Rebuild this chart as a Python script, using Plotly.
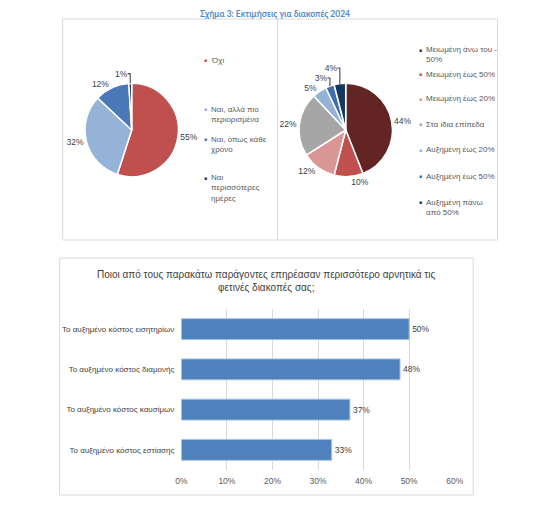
import plotly.graph_objects as go

W, H = 552, 510
PAGE_OFFSET = 8  # отступ body в странице: график сдвинут на 8px
FONT = "Liberation Sans, Arial, sans-serif"
TXT = "#404040"

# --- данные ---
trip_labels = ["Όχι", "Ναι, αλλά πιο<br>περιορισμένα", "Ναι, όπως κάθε<br>χρόνο",
               "Ναι<br>περισσότερες<br>ημέρες"]
trip_values = [55, 32, 12, 1]
trip_colors = ["#C0504D", "#95B3D7", "#4A78B8", "#1F3864"]

budget_labels = ["Μειωμένη άνω του -<br>50%", "Μειωμένη έως 50%", "Μειωμένη έως 20%",
                 "Στα ίδια επίπεδα", "Αυξημένη έως 20%", "Αυξημένη έως 50%",
                 "Αυξημένη πάνω<br>από 50%"]
budget_values = [44, 10, 12, 22, 5, 3, 4]
budget_colors = ["#632523", "#C0504D", "#D99694", "#A6A6A6", "#95B3D7", "#3F6FAE", "#17375E"]

factor_labels = ["Το αυξημένο κόστος εισητηρίων", "Το αυξημένο κόστος διαμονής",
                 "Το αυξημένο κόστος καυσίμων", "Το αυξημένο κόστος εστίασης"]
factor_values = [0.50, 0.48, 0.37, 0.33]
x_ticks = [0, 0.1, 0.2, 0.3, 0.4, 0.5, 0.6]

# позиции легенд (пиксели экрана, центр первой строки)
LEFT_LEGEND = dict(x=205, ys=[60, 109, 139, 178])
RIGHT_LEGEND = dict(x=426, ys=[50, 74, 99, 124, 150, 176, 202])


def px_x(x):
    return (x - PAGE_OFFSET) / W


def px_y(y):
    return 1 - (y - PAGE_OFFSET) / H


def pie_domain(cx, cy, r):
    return dict(x=[px_x(cx - r), px_x(cx + r)], y=[px_y(cy + r), px_y(cy - r)])


fig = go.Figure()

for labels, values, colors, (cx, cy) in [
    (trip_labels, trip_values, trip_colors, (129, 130)),
    (budget_labels, budget_values, budget_colors, (349, 130)),
]:
    fig.add_trace(go.Pie(
        labels=labels, values=values, sort=False, direction="clockwise", rotation=0,
        marker=dict(colors=colors, line=dict(color="white", width=1.5)),
        texttemplate="%{percent:.0%}", textposition="outside",
        textfont=dict(size=8.5, color=TXT, family=FONT),
        domain=pie_domain(cx, cy, 48), showlegend=False, hoverinfo="label+percent",
    ))

fig.add_trace(go.Bar(
    x=factor_values, y=factor_labels, orientation="h", width=0.52,
    marker=dict(color="#4F81BD", line=dict(color="#A9C1E0", width=1)),
    texttemplate="%{x:.0%}", textposition="outside", cliponaxis=False,
    textfont=dict(size=8.5, color=TXT, family=FONT), showlegend=False,
))

annotations = [
    # заголовок прижат к верху страницы (выше не даёт отступ body)
    dict(x=px_x(276), y=1, text="<b>Σχήμα 3: Εκτιμήσεις για διακοπές 2024</b>",
         xanchor="center", yanchor="top", borderpad=0,
         font=dict(size=8.5, color="#4F8BC9", family="Lato, sans-serif")),
    dict(x=px_x(268), y=px_y(281), xanchor="center", yanchor="middle",
         text="Ποιοι από τους παρακάτω παράγοντες επηρέασαν περισσότερο αρνητικά τις<br>"
              "φετινές διακοπές σας;",
         font=dict(size=10, color=TXT, family=FONT)),
]

# легенды: маркер + подпись
for spec, labels, colors in [(LEFT_LEGEND, trip_labels, trip_colors),
                             (RIGHT_LEGEND, budget_labels, budget_colors)]:
    for yc, lab, col in zip(spec["ys"], labels, colors):
        annotations.append(dict(x=px_x(spec["x"]), y=px_y(yc), text="■",
                                font=dict(size=5, color=col), xanchor="center", yanchor="middle"))
        annotations.append(dict(x=px_x(spec["x"] + 3), y=px_y(yc - 6.5), text=lab, align="left",
                                xanchor="left", yanchor="top",
                                font=dict(size=8, color="#595959", family=FONT)))

for a in annotations:
    a.setdefault("xref", "paper")
    a.setdefault("yref", "paper")
    a.setdefault("showarrow", False)

border = dict(color="#D9D9D9", width=1)
shapes = [
    dict(type="rect", x0=px_x(58), x1=px_x(505), y0=px_y(240), y1=px_y(19), line=border),
    dict(type="line", x0=px_x(279), x1=px_x(279), y0=px_y(240), y1=px_y(19), line=border),
    dict(type="rect", x0=px_x(55), x1=px_x(480), y0=px_y(495), y1=px_y(258), line=border),
]
for s in shapes:
    s.update(xref="paper", yref="paper", layer="below")

fig.update_layout(
    width=W, height=H,
    margin=dict(l=0, r=0, t=0, b=0),
    paper_bgcolor="white", plot_bgcolor="white",
    font=dict(family=FONT, color=TXT),
    xaxis=dict(domain=[px_x(180), px_x(461)], range=[0, 0.6], tickvals=x_ticks,
               tickformat=".0%", showgrid=True, gridcolor="#D9D9D9", zeroline=False,
               showline=False, ticks="", ticklabelstandoff=4,
               tickfont=dict(size=8.5, color="#595959")),
    yaxis=dict(domain=[px_y(470), px_y(309)], autorange="reversed", showgrid=False,
               zeroline=False, showline=False, ticks="", ticklabelstandoff=6,
               tickfont=dict(size=8, color=TXT)),
    annotations=annotations,
    shapes=shapes,
    showlegend=False,
)

fig.write_html("out.html")
